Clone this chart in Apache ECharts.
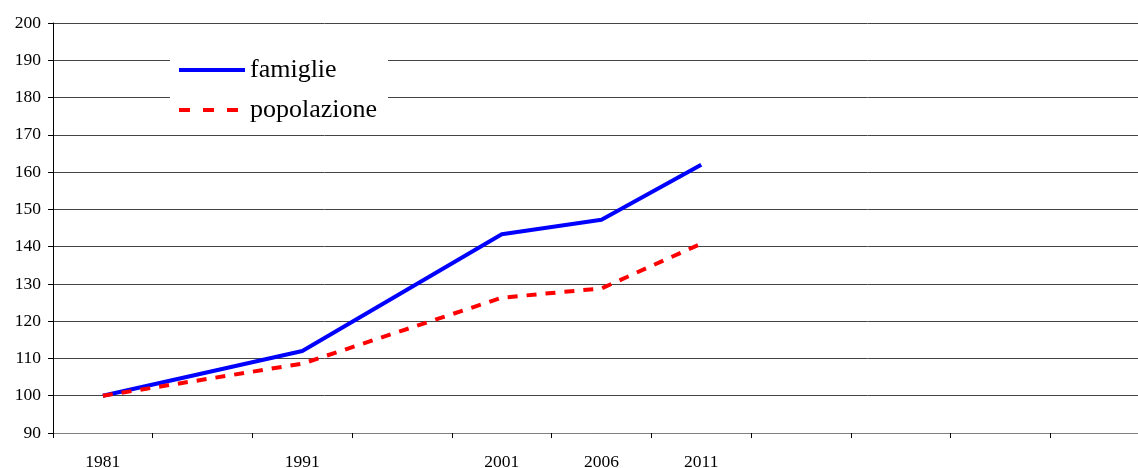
<!DOCTYPE html>
<html>
<head>
<meta charset="utf-8">
<script src="https://cdn.jsdelivr.net/npm/echarts@6/dist/echarts.min.js"></script>
<style>
  html, body { margin: 0; padding: 0; background: #fff; overflow: hidden; }
  #chart { width: 1138px; height: 468px; }
</style>
</head>
<body>
<div id="chart"></div>
<script>
// Census years (blank slots keep the even spacing of the axis)
const years = ['1981', '', '1991', '', '2001', '2006', '2011', '', '', '', ''];
// Index numbers, 1981 = 100
const famiglie = [100, null, 112, null, 143.3, 147.2, 162, null, null, null, null];
const popolazione = [100, null, 108.6, null, 126.3, 128.8, 140.8, null, null, null, null];
const yTicks = { min: 90, max: 200, step: 10 };

const serif = '"Liberation Serif", "Times New Roman", serif';

const chart = echarts.init(document.getElementById('chart'));
chart.setOption({
  animation: false,
  backgroundColor: '#fff',
  // the last category runs past the right edge of the canvas
  grid: { left: 53, width: 1097, top: 23, height: 410, containLabel: false, outerBoundsMode: 'none' },
  legend: {
    left: 170,
    top: 55,
    orient: 'vertical',
    backgroundColor: '#fff',
    padding: [2, 11, 2, 7],
    itemGap: 14,
    itemWidth: 66,
    itemHeight: 14,
    itemStyle: { opacity: 0 },
    lineStyle: { width: 4 },
    textStyle: { fontFamily: serif, fontSize: 26, color: '#000', padding: [0, 0, 0, 0] },
    data: [
      { name: 'famiglie' },
      { name: 'popolazione', lineStyle: { width: 4, type: [11, 13] } }
    ]
  },
  xAxis: {
    type: 'category',
    data: years,
    boundaryGap: true,
    axisLine: { lineStyle: { color: '#808080', width: 1 } },
    axisTick: { show: true, alignWithLabel: false, interval: 0, length: 5, lineStyle: { color: '#000' } },
    axisLabel: { interval: 0, fontFamily: serif, fontSize: 17.5, color: '#000', margin: 20 },
    splitLine: { show: false }
  },
  yAxis: {
    type: 'value',
    min: yTicks.min,
    max: yTicks.max,
    interval: yTicks.step,
    axisLine: { show: true, lineStyle: { color: '#000', width: 1 } },
    axisTick: { show: true, length: 5, lineStyle: { color: '#000' } },
    axisLabel: { fontFamily: serif, fontSize: 17.5, color: '#000', margin: 12 },
    splitLine: { show: true, lineStyle: { color: '#444', width: 1 } }
  },
  series: [
    {
      name: 'famiglie',
      type: 'line',
      data: famiglie,
      connectNulls: true,
      symbol: 'none',
      showSymbol: false,
      color: '#0000ff',
      lineStyle: { color: '#0000ff', width: 4 }
    },
    {
      name: 'popolazione',
      type: 'line',
      data: popolazione,
      connectNulls: true,
      symbol: 'none',
      showSymbol: false,
      color: '#ff0000',
      lineStyle: { color: '#ff0000', width: 4, type: [10, 9] }
    }
  ]
});
</script>
</body>
</html>
